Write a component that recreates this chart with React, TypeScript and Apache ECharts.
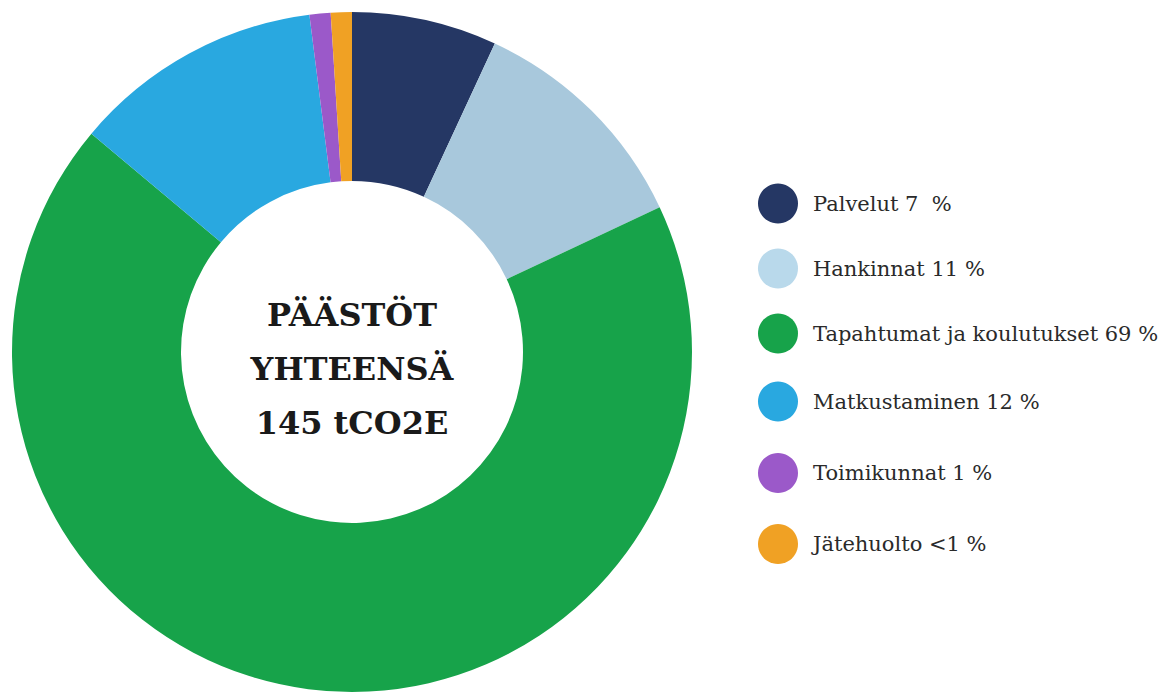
import React, { useEffect, useRef } from "react";
import * as echarts from "echarts";

const categories = ["Palvelut", "Hankinnat", "Tapahtumat ja koulutukset", "Matkustaminen", "Toimikunnat", "Jätehuolto"];
const values = [6.9, 11.1, 68.1, 11.9, 1.0, 1.0];
const percentLabels = ["7  %", "11 %", "69 %", "12 %", "1 %", "<1 %"];
const sliceColors = ["#253764", "#a8c8dc", "#17a34a", "#29a8e0", "#9b59c9", "#f0a124"];
const legendColors = ["#253764", "#b9d9eb", "#17a34a", "#29a8e0", "#9b59c9", "#f0a124"];
const legendRowCenters = [203.5, 268.5, 333.5, 401.5, 473, 544];
const centerTitle = "PÄÄSTÖT\nYHTEENSÄ\n145 tCO2E";

export default function App() {
  const ref = useRef<HTMLDivElement>(null);
  useEffect(() => {
    if (!ref.current) return;
    const chart = echarts.init(ref.current, null, { renderer: "svg" });
    const legends = categories.map((name, i) => ({
      show: true,
      orient: "vertical",
      left: 753,
      top: legendRowCenters[i] - 25,
      itemWidth: 60,
      itemHeight: 40,
      icon: "circle",
      selectedMode: false,
      data: [{ name, itemStyle: { color: legendColors[i] } }],
      formatter: (n: string) => n + " " + percentLabels[categories.indexOf(n)],
      textStyle: { fontFamily: "DejaVu Serif", fontSize: 21, color: "#2a2a2a" },
    }));
    chart.setOption({
      animation: false,
      backgroundColor: "#ffffff",
      legend: legends,
      graphic: [
        {
          type: "text",
          x: 352,
          y: 369,
          style: {
            text: centerTitle,
            textAlign: "center",
            textVerticalAlign: "middle",
            fontFamily: "DejaVu Serif",
            fontWeight: "bold",
            fontSize: 32,
            lineHeight: 54,
            fill: "#1a1a1a",
          },
        },
      ],
      series: [
        {
          type: "pie",
          center: [352, 352],
          radius: [171, 340],
          startAngle: 90,
          clockwise: true,
          label: { show: false },
          labelLine: { show: false },
          emphasis: { disabled: true },
          data: categories.map((name, i) => ({
            name,
            value: values[i],
            itemStyle: { color: sliceColors[i] },
          })),
        },
      ],
    });
    return () => chart.dispose();
  }, []);
  return (
    <div
      ref={ref}
      style={{ position: "absolute", left: 0, top: 0, width: 1161, height: 694 }}
    />
  );
}
